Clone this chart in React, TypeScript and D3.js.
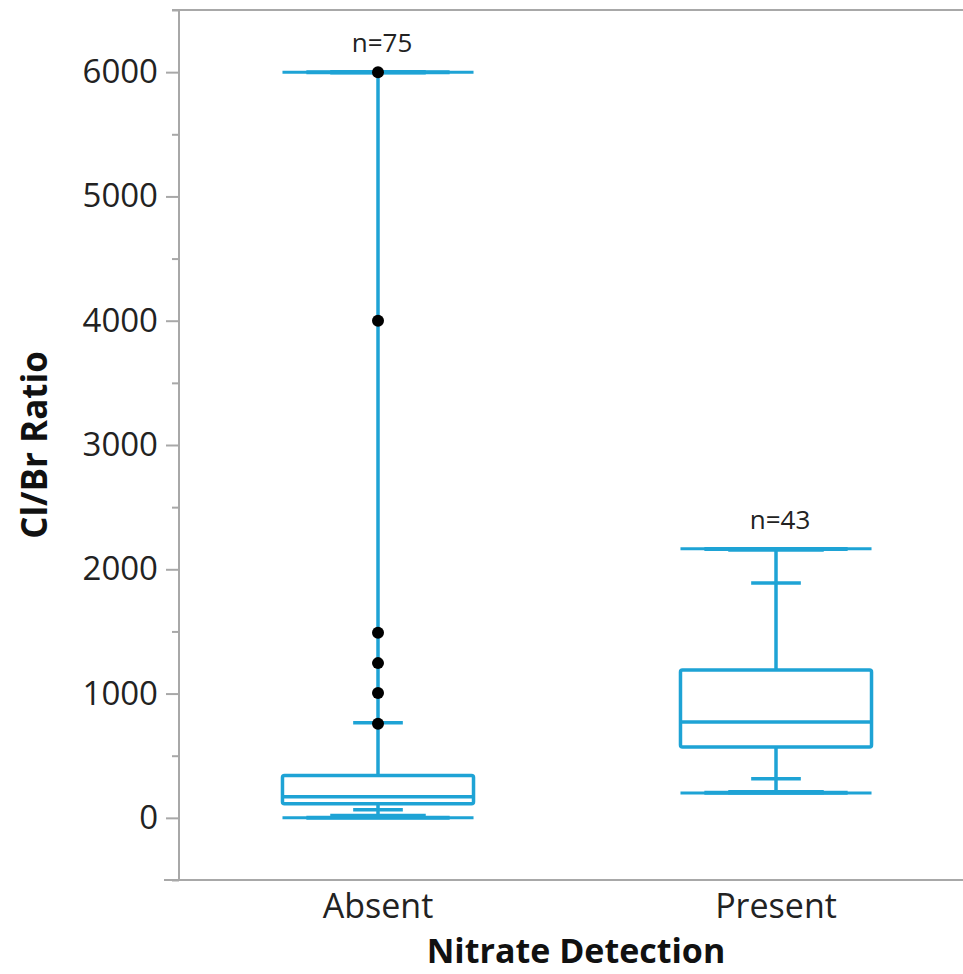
import React, { useRef, useEffect } from "react";
import * as d3 from "d3";

// groups and their counts
const categories = ["Absent", "Present"];
const counts = [75, 43];

// quantiles
const minVals = [0, 200];
const p005 = [0, 203];
const p025 = [15, 207];
const p10 = [65, 315];
const q1 = [113, 570];
const medians = [170, 772];
const q3 = [340, 1190];
const p90 = [765, 1890];
const p975 = [6000, 2160];
const p995 = [6000, 2163];
const maxVals = [6000, 2165];

// outlier points (Absent only)
const outliers = [
  { group: "Absent", value: 6000 },
  { group: "Absent", value: 4000 },
  { group: "Absent", value: 1490 },
  { group: "Absent", value: 1245 },
  { group: "Absent", value: 1005 },
  { group: "Absent", value: 757 },
];

const yTicks = [0, 1000, 2000, 3000, 4000, 5000, 6000];

const App: React.FC = () => {
  const svgRef = useRef<SVGSVGElement | null>(null);

  useEffect(() => {
    if (!svgRef.current) return;
    const svg = d3.select(svgRef.current);
    svg.selectAll("*").remove();

    const width = 963;
    const height = 974;
    const left = 179;
    const top = 10;
    const bottom = 880;
    const blue = "#1ea3d5";
    const axisColor = "#a8a8a8";
    const font = "'Open Sans', 'Noto Sans', sans-serif";

    svg.attr("width", width).attr("height", height).style("font-family", font);

    const y = d3.scaleLinear().domain([-500, 6500]).range([bottom, top]);
    const x = d3.scaleBand().domain(categories).range([left, 975]).paddingInner(0);
    const boxW = x.bandwidth() * 0.48;

    // frame
    svg.append("line").attr("x1", left).attr("x2", left).attr("y1", top).attr("y2", bottom)
      .attr("stroke", axisColor).attr("stroke-width", 2);
    svg.append("line").attr("x1", left - 7).attr("x2", width).attr("y1", top).attr("y2", top)
      .attr("stroke", axisColor).attr("stroke-width", 2);
    svg.append("line").attr("x1", left - 15).attr("x2", width).attr("y1", bottom).attr("y2", bottom)
      .attr("stroke", axisColor).attr("stroke-width", 2);

    // y axis
    const yAxis = d3.axisLeft(y)
      .tickValues(d3.range(-500, 6501, 500))
      .tickSize(0)
      .tickFormat((d: any) => (yTicks.includes(+d) ? String(d) : ""));
    const gy = svg.append("g").attr("transform", `translate(${left},0)`).call(yAxis);
    gy.select(".domain").remove();
    gy.selectAll(".tick line")
      .attr("x2", (d: any) => (yTicks.includes(+d) ? -13 : -7))
      .attr("stroke", axisColor)
      .attr("stroke-width", 2);
    gy.selectAll(".tick text")
      .attr("x", -21)
      .attr("fill", "#222")
      .style("font-family", font)
      .style("font-size", "33px");

    // x labels
    svg.append("g").selectAll("text").data(categories).join("text")
      .attr("x", (d) => x(d)! + x.bandwidth() / 2)
      .attr("y", 918)
      .attr("text-anchor", "middle")
      .attr("fill", "#222")
      .style("font-size", "34px")
      .text((d) => d);

    // titles
    svg.append("text")
      .attr("x", 576).attr("y", 963)
      .attr("text-anchor", "middle")
      .attr("fill", "#111")
      .style("font-size", "34px")
      .style("font-weight", "bold")
      .text("Nitrate Detection");
    svg.append("text")
      .attr("transform", "translate(47,445) rotate(-90)")
      .attr("text-anchor", "middle")
      .attr("fill", "#111")
      .style("font-size", "35px")
      .style("font-weight", "bold")
      .text("Cl/Br Ratio");

    // boxes
    const g = svg.append("g").attr("fill", "none").attr("stroke", blue);
    categories.forEach((c, i) => {
      const cx = x(c)! + x.bandwidth() / 2;
      const hline = (v: number, w: number, sw: number) =>
        g.append("line")
          .attr("x1", cx - w / 2).attr("x2", cx + w / 2)
          .attr("y1", y(v)).attr("y2", y(v))
          .attr("stroke-width", sw);

      // whiskers
      g.append("line").attr("x1", cx).attr("x2", cx).attr("y1", y(maxVals[i])).attr("y2", y(q3[i]))
        .attr("stroke-width", 3.5);
      g.append("line").attr("x1", cx).attr("x2", cx).attr("y1", y(q1[i])).attr("y2", y(minVals[i]))
        .attr("stroke-width", 3.5);

      // box
      g.append("rect")
        .attr("x", cx - boxW / 2).attr("width", boxW)
        .attr("y", y(q3[i])).attr("height", y(q1[i]) - y(q3[i]))
        .attr("rx", 2)
        .attr("stroke-width", 3.5);
      hline(medians[i], boxW, 3.5);

      // quantile lines
      hline(p10[i], boxW * 0.26, 3.5);
      hline(p90[i], boxW * 0.26, 3.5);
      hline(minVals[i], boxW, 3);
      hline(maxVals[i], boxW, 3);
      hline(p005[i], boxW * 0.75, 4);
      hline(p995[i], boxW * 0.75, 4);
      hline(p025[i], boxW * 0.5, 4.5);
      hline(p975[i], boxW * 0.5, 4.5);
    });

    // outliers
    svg.append("g").selectAll("circle").data(outliers).join("circle")
      .attr("cx", (d) => x(d.group)! + x.bandwidth() / 2)
      .attr("cy", (d) => y(d.value))
      .attr("r", 6)
      .attr("fill", "#000");

    // counts
    svg.append("g").selectAll("text").data(categories).join("text")
      .attr("x", (d) => x(d)! + x.bandwidth() / 2 + 4)
      .attr("y", (d, i) => y(maxVals[i]) - 20)
      .attr("text-anchor", "middle")
      .attr("fill", "#222")
      .style("font-size", "26px")
      .text((d, i) => `n=${counts[i]}`);
  }, []);

  return <svg ref={svgRef} style={{ position: "absolute", left: 0, top: 0 }} />;
};

export default App;
